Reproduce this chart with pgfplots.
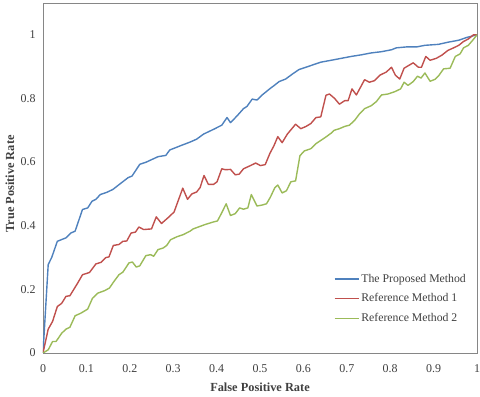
\documentclass[border=0pt]{standalone}
\usepackage{fontspec}
\setmainfont{Liberation Serif}
\usepackage{pgfplots}
\pgfplotsset{compat=1.18}
\definecolor{propblue}{HTML}{4F81BD}
\definecolor{refred}{HTML}{C0504D}
\definecolor{refgreen}{HTML}{9BBB59}
\definecolor{axgray}{HTML}{868686}
\definecolor{txtgray}{HTML}{404040}

\begin{document}
\begin{tikzpicture}
\useasboundingbox (-43bp,-44bp) rectangle (437bp,353bp);
\begin{axis}[
  at={(0,0)}, anchor=south west,
  scale only axis, width=434bp, height=350bp,
  xmin=0, xmax=1, ymin=0, ymax=1.1,
  xtick={0,0.1,0.2,0.3,0.4,0.5,0.6,0.7,0.8,0.9,1},
  ytick={0,0.2,0.4,0.6,0.8,1},
  major tick length=0,
  axis line style={axgray, line width=0.9bp},
  /pgf/number format/assume math mode=true,
  tick label style={font=\fontsize{12}{14}\selectfont, text=txtgray},
  xticklabel style={yshift=-8.5bp},
  yticklabel style={xshift=-4bp},
  xlabel={False Positive Rate}, ylabel={True Positive Rate},
  label style={font=\fontsize{12.4}{14}\selectfont\bfseries, text=txtgray},
  xlabel style={at={(axis description cs:0.5,-0.1086)}, anchor=base},
  ylabel style={at={(axis description cs:-0.076,0.483)}, anchor=center},
  legend style={at={(axis description cs:0.67,0.232)}, anchor=north west,
    draw=none, fill=none, row sep=6bp, inner sep=0pt,
    font=\fontsize{11.8}{13}\selectfont, text=txtgray},
  legend cell align=left,
  legend image code/.code={\draw[#1] (0bp,0bp) -- (24bp,0bp);},
  every axis plot/.append style={line width=1.4bp, line join=round}]
\addplot[propblue] coordinates {(0,0) (0.012,0.278) (0.02,0.30) (0.033,0.351) (0.053,0.362) (0.064,0.377) (0.074,0.383) (0.091,0.451) (0.103,0.456) (0.113,0.477) (0.122,0.483) (0.132,0.498) (0.147,0.505) (0.161,0.514) (0.176,0.53) (0.196,0.551) (0.205,0.556) (0.223,0.593) (0.238,0.60) (0.265,0.617) (0.283,0.621) (0.292,0.638) (0.316,0.651) (0.339,0.663) (0.354,0.672) (0.37,0.688) (0.393,0.703) (0.412,0.716) (0.424,0.740) (0.432,0.724) (0.447,0.745) (0.462,0.768) (0.47,0.775) (0.482,0.798) (0.493,0.795) (0.505,0.811) (0.524,0.832) (0.532,0.84) (0.544,0.853) (0.559,0.861) (0.575,0.877) (0.59,0.891) (0.61,0.90) (0.629,0.909) (0.64,0.914) (0.664,0.92) (0.687,0.926) (0.71,0.932) (0.733,0.937) (0.756,0.943) (0.78,0.947) (0.803,0.953) (0.814,0.959) (0.838,0.962) (0.861,0.962) (0.88,0.967) (0.911,0.97) (0.934,0.977) (0.958,0.983) (0.977,0.992) (1,1)};
\addlegendentry{The Proposed Method}
\addplot[refred] coordinates {(0,0) (0.012,0.075) (0.022,0.099) (0.033,0.146) (0.043,0.156) (0.053,0.178) (0.062,0.18) (0.08,0.22) (0.091,0.246) (0.107,0.253) (0.122,0.28) (0.134,0.285) (0.145,0.30) (0.152,0.302) (0.162,0.338) (0.175,0.341) (0.184,0.351) (0.193,0.352) (0.203,0.377) (0.213,0.38) (0.221,0.396) (0.232,0.388) (0.25,0.39) (0.261,0.428) (0.273,0.407) (0.288,0.425) (0.302,0.443) (0.322,0.518) (0.333,0.483) (0.343,0.50) (0.354,0.506) (0.362,0.52) (0.371,0.558) (0.381,0.53) (0.393,0.53) (0.401,0.538) (0.412,0.579) (0.42,0.576) (0.432,0.577) (0.443,0.56) (0.452,0.562) (0.462,0.579) (0.478,0.589) (0.49,0.597) (0.501,0.589) (0.512,0.592) (0.523,0.628) (0.532,0.651) (0.541,0.68) (0.551,0.661) (0.563,0.688) (0.582,0.719) (0.594,0.705) (0.606,0.712) (0.617,0.721) (0.629,0.74) (0.64,0.742) (0.652,0.81) (0.66,0.814) (0.672,0.80) (0.683,0.782) (0.695,0.793) (0.703,0.793) (0.712,0.83) (0.722,0.811) (0.741,0.859) (0.752,0.851) (0.764,0.856) (0.776,0.873) (0.791,0.883) (0.803,0.898) (0.812,0.873) (0.822,0.861) (0.832,0.895) (0.843,0.904) (0.853,0.912) (0.865,0.898) (0.872,0.898) (0.882,0.932) (0.892,0.92) (0.906,0.926) (0.919,0.936) (0.933,0.951) (0.946,0.959) (0.958,0.967) (0.969,0.979) (0.98,0.987) (0.992,1.0) (1,1)};
\addlegendentry{Reference Method 1}
\addplot[refgreen] coordinates {(0,0) (0.012,0.01) (0.022,0.036) (0.03,0.036) (0.043,0.062) (0.053,0.075) (0.062,0.081) (0.074,0.117) (0.087,0.125) (0.103,0.138) (0.114,0.172) (0.126,0.188) (0.142,0.196) (0.153,0.204) (0.162,0.222) (0.175,0.246) (0.184,0.254) (0.198,0.283) (0.206,0.286) (0.215,0.27) (0.223,0.274) (0.237,0.306) (0.248,0.309) (0.255,0.304) (0.265,0.325) (0.277,0.33) (0.285,0.338) (0.294,0.356) (0.308,0.365) (0.323,0.372) (0.339,0.383) (0.346,0.39) (0.374,0.404) (0.393,0.412) (0.402,0.415) (0.412,0.441) (0.422,0.469) (0.432,0.432) (0.443,0.438) (0.453,0.456) (0.462,0.452) (0.472,0.456) (0.48,0.498) (0.493,0.462) (0.505,0.465) (0.515,0.469) (0.524,0.49) (0.534,0.519) (0.541,0.528) (0.551,0.503) (0.561,0.51) (0.571,0.538) (0.582,0.541) (0.592,0.62) (0.602,0.635) (0.617,0.642) (0.629,0.658) (0.639,0.667) (0.65,0.677) (0.664,0.691) (0.671,0.70) (0.683,0.705) (0.695,0.712) (0.706,0.716) (0.718,0.731) (0.729,0.751) (0.741,0.768) (0.756,0.777) (0.768,0.79) (0.78,0.811) (0.795,0.814) (0.81,0.821) (0.824,0.83) (0.832,0.851) (0.841,0.841) (0.853,0.853) (0.863,0.87) (0.871,0.864) (0.88,0.88) (0.892,0.854) (0.903,0.86) (0.912,0.872) (0.923,0.893) (0.938,0.895) (0.95,0.932) (0.961,0.94) (0.969,0.959) (0.98,0.967) (0.992,0.986) (1,1)};
\addlegendentry{Reference Method 2}
\end{axis}
\end{tikzpicture}
\end{document}
